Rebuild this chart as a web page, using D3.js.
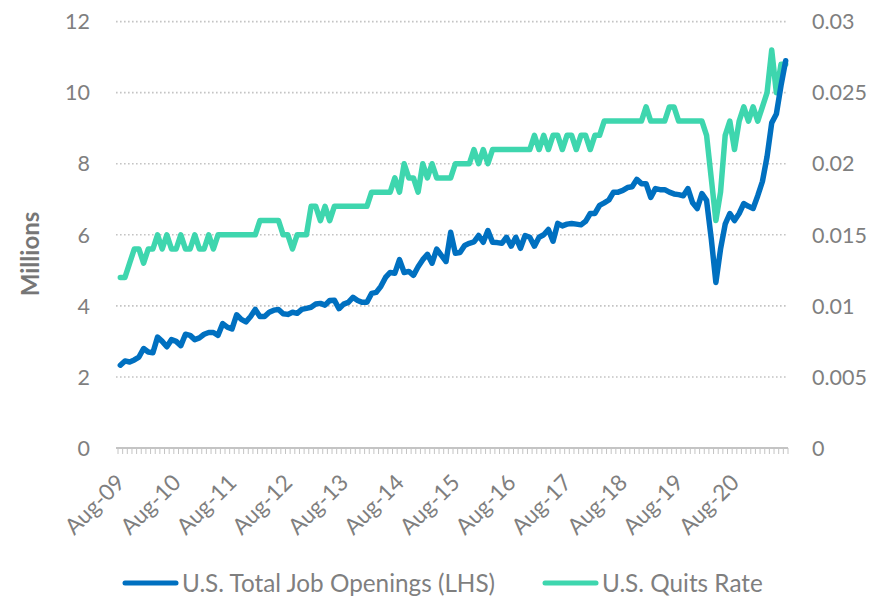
<!DOCTYPE html>
<html>
<head>
<meta charset="utf-8">
<script src="https://cdn.jsdelivr.net/npm/d3@7"></script>
<style>
  body { margin: 0; background: #fff; }
  svg { display: block; font-family: Lato, "Open Sans", sans-serif; }
</style>
</head>
<body>
<svg id="chart" width="874" height="602"></svg>
<script>
const width = 874;
const height = 602;

// months Aug-09 .. Jul-21
const months = d3.timeMonth.range(new Date(2009, 7, 1), new Date(2021, 7, 1));
const tickLabels = ["Aug-09", "Aug-10", "Aug-11", "Aug-12", "Aug-13", "Aug-14",
  "Aug-15", "Aug-16", "Aug-17", "Aug-18", "Aug-19", "Aug-20"];
const leftTicks = [0, 2, 4, 6, 8, 10, 12];
const rightTicks = [0, 0.005, 0.01, 0.015, 0.02, 0.025, 0.03];

// U.S. total job openings, millions (LHS)
const jobOpenings = [
  2.33, 2.45, 2.42, 2.48, 2.56, 2.8, 2.7, 2.68, 3.12, 3.0,
  2.85, 3.05, 3.0, 2.88, 3.2, 3.17, 3.05, 3.1, 3.2, 3.25,
  3.25, 3.17, 3.5, 3.4, 3.35, 3.75, 3.62, 3.55, 3.7, 3.9,
  3.7, 3.7, 3.82, 3.88, 3.9, 3.78, 3.76, 3.82, 3.79, 3.9,
  3.93, 3.96, 4.05, 4.07, 4.02, 4.15, 4.16, 3.92, 4.05, 4.1,
  4.24, 4.15, 4.1, 4.1, 4.35, 4.38, 4.55, 4.8, 4.94, 4.92,
  5.3, 4.94, 4.97, 4.86, 5.1, 5.3, 5.45, 5.2, 5.6, 5.42,
  5.25, 6.07, 5.48, 5.5, 5.7, 5.76, 5.8, 5.98, 5.79, 6.12,
  5.79, 5.78, 5.76, 5.93, 5.68, 5.93, 5.62, 5.98, 5.93, 5.68,
  5.93, 6.0, 6.15, 5.82, 6.32, 6.25, 6.3, 6.32, 6.3, 6.28,
  6.38, 6.6, 6.6, 6.83, 6.9, 6.98, 7.2, 7.2, 7.25, 7.33,
  7.35, 7.56, 7.44, 7.44, 7.05, 7.3, 7.27, 7.27, 7.2, 7.15,
  7.13, 7.1, 7.3, 6.9, 6.74, 7.16, 6.97, 5.9, 4.66, 5.6,
  6.3, 6.6, 6.4, 6.6, 6.88, 6.8, 6.74, 7.1, 7.5, 8.2,
  9.15, 9.4, 10.2, 10.9
];

// U.S. quits rate (RHS)
const quitsRate = [
  0.012, 0.012, 0.013, 0.014, 0.014, 0.013, 0.014, 0.014, 0.015, 0.014,
  0.015, 0.014, 0.014, 0.015, 0.014, 0.014, 0.015, 0.014, 0.014, 0.015,
  0.014, 0.015, 0.015, 0.015, 0.015, 0.015, 0.015, 0.015, 0.015, 0.015,
  0.016, 0.016, 0.016, 0.016, 0.016, 0.015, 0.015, 0.014, 0.015, 0.015,
  0.015, 0.017, 0.017, 0.016, 0.017, 0.016, 0.017, 0.017, 0.017, 0.017,
  0.017, 0.017, 0.017, 0.017, 0.018, 0.018, 0.018, 0.018, 0.018, 0.019,
  0.018, 0.020, 0.019, 0.019, 0.018, 0.020, 0.019, 0.020, 0.019, 0.019,
  0.019, 0.019, 0.020, 0.020, 0.020, 0.020, 0.021, 0.020, 0.021, 0.020,
  0.021, 0.021, 0.021, 0.021, 0.021, 0.021, 0.021, 0.021, 0.021, 0.022,
  0.021, 0.022, 0.021, 0.022, 0.022, 0.021, 0.022, 0.022, 0.021, 0.022,
  0.022, 0.021, 0.022, 0.022, 0.023, 0.023, 0.023, 0.023, 0.023, 0.023,
  0.023, 0.023, 0.023, 0.024, 0.023, 0.023, 0.023, 0.023, 0.024, 0.024,
  0.023, 0.023, 0.023, 0.023, 0.023, 0.023, 0.022, 0.019, 0.016, 0.018,
  0.022, 0.023, 0.021, 0.023, 0.024, 0.023, 0.024, 0.023, 0.024, 0.025,
  0.028, 0.025, 0.027, 0.027
];

const seriesNames = ["U.S. Total Job Openings (LHS)", "U.S. Quits Rate"];
const colors = ["#0070C0", "#3ED6AE"];
const textColor = "#7f7f7f";
const gridColor = "#c4c4c4";

const svg = d3.select("#chart");

const x = d3.scaleBand().domain(d3.range(months.length)).range([118, 788]);
const cx = (i) => x(i) + x.bandwidth() / 2;
const yL = d3.scaleLinear().domain([0, 12]).range([448, 21.6]);
const yR = d3.scaleLinear().domain([0, 0.03]).range([448, 21.6]);

// dotted gridlines
svg.append("g")
  .selectAll("line")
  .data(leftTicks.filter((d) => d > 0))
  .enter()
  .append("line")
  .attr("x1", 116)
  .attr("x2", 788)
  .attr("y1", (d) => yL(d))
  .attr("y2", (d) => yL(d))
  .attr("stroke", gridColor)
  .attr("stroke-width", 1.6)
  .attr("stroke-dasharray", "1.6 2.4");

// category axis with a tick between every month
const xAxis = svg.append("g");
xAxis.append("line")
  .attr("x1", 116)
  .attr("x2", 788)
  .attr("y1", yL(0))
  .attr("y2", yL(0))
  .attr("stroke", gridColor)
  .attr("stroke-width", 2);
xAxis.selectAll(".mtick")
  .data(d3.range(months.length + 1))
  .enter()
  .append("line")
  .attr("class", "mtick")
  .attr("x1", (i) => (i < months.length ? x(i) : x(i - 1) + x.bandwidth()))
  .attr("x2", (i) => (i < months.length ? x(i) : x(i - 1) + x.bandwidth()))
  .attr("y1", yL(0))
  .attr("y2", yL(0) + 6)
  .attr("stroke", gridColor)
  .attr("stroke-width", 1);

const labelIdx = months
  .map((m, i) => (m.getMonth() === 7 ? i : -1))
  .filter((i) => i >= 0);
xAxis.selectAll(".xlab")
  .data(labelIdx)
  .enter()
  .append("text")
  .attr("class", "xlab")
  .attr("transform", (i) => `translate(${cx(i) + 6}, 484) rotate(-45)`)
  .attr("text-anchor", "end")
  .attr("fill", textColor)
  .style("font-size", "22.5px")
  .text((i, k) => tickLabels[k]);

// left axis labels
svg.append("g")
  .selectAll("text")
  .data(leftTicks)
  .enter()
  .append("text")
  .attr("x", 90)
  .attr("y", (d) => yL(d))
  .attr("dy", "0.36em")
  .attr("text-anchor", "end")
  .attr("fill", textColor)
  .style("font-size", "21.5px")
  .text((d) => d);

// right axis labels
svg.append("g")
  .selectAll("text")
  .data(rightTicks)
  .enter()
  .append("text")
  .attr("x", 812)
  .attr("y", (d) => yR(d))
  .attr("dy", "0.36em")
  .attr("text-anchor", "start")
  .attr("fill", textColor)
  .style("font-size", "21.5px")
  .text((d) => d3.format("~g")(d));

svg.append("text")
  .attr("transform", "translate(39, 254) rotate(-90)")
  .attr("text-anchor", "middle")
  .attr("fill", "#767676")
  .style("font-size", "24px")
  .style("font-weight", "bold")
  .text("Millions");

// lines
const lineL = d3.line().x((d, i) => cx(i)).y((d) => yL(d));
const lineR = d3.line().x((d, i) => cx(i)).y((d) => yR(d));

svg.append("path")
  .datum(quitsRate)
  .attr("d", lineR)
  .attr("fill", "none")
  .attr("stroke", colors[1])
  .attr("stroke-width", 5.5)
  .attr("stroke-linejoin", "round")
  .attr("stroke-linecap", "round");

svg.append("path")
  .datum(jobOpenings)
  .attr("d", lineL)
  .attr("fill", "none")
  .attr("stroke", colors[0])
  .attr("stroke-width", 5.5)
  .attr("stroke-linejoin", "round")
  .attr("stroke-linecap", "round");

// legend
const legendX = [123, 543];
const legend = svg.append("g")
  .selectAll("g")
  .data(seriesNames)
  .enter()
  .append("g")
  .attr("transform", (d, i) => `translate(${legendX[i]}, 583)`);
legend.append("line")
  .attr("x1", 2)
  .attr("x2", 53)
  .attr("stroke", (d, i) => colors[i])
  .attr("stroke-width", 5)
  .attr("stroke-linecap", "round");
legend.append("text")
  .attr("x", 59)
  .attr("dy", "0.36em")
  .attr("fill", textColor)
  .style("font-size", "24.3px")
  .text((d) => d);
</script>
</body>
</html>
